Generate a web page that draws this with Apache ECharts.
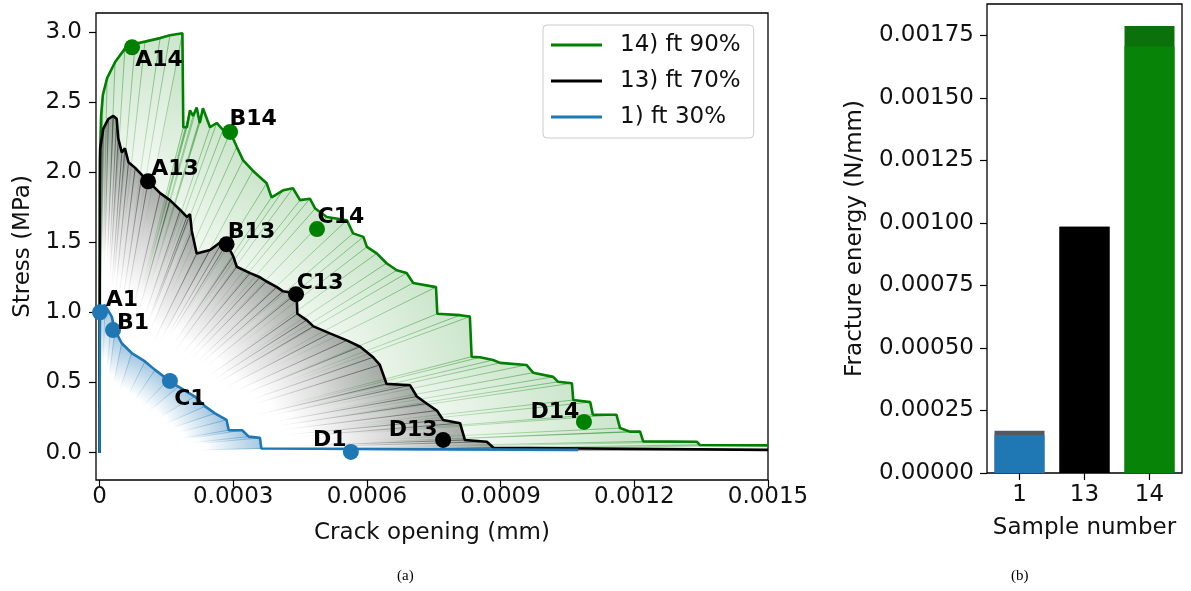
<!DOCTYPE html>
<html><head><meta charset="utf-8">
<script src="https://cdn.jsdelivr.net/npm/echarts@6/dist/echarts.min.js"></script>
<style>html,body{margin:0;padding:0;background:#fff}#c{width:1191px;height:591px}</style>
</head><body><div id="c"></div>
<script>
// ---------------- data ----------------
const crackTicks = [0, 0.0003, 0.0006, 0.0009, 0.0012, 0.0015];
const stressTicks = [0, 0.5, 1.0, 1.5, 2.0, 2.5, 3.0];
const seriesNames = ['14) ft 90%', '13) ft 70%', '1) ft 30%'];

const curve14 = [
  [0, 0], [0.000001, 2.10], [0.0000035, 2.40], [0.0000075, 2.55], [0.000017, 2.67],
  [0.000035, 2.785], [0.000057, 2.88], [0.00008, 2.915], [0.000102, 2.93], [0.000136, 2.955],
  [0.000158, 2.975], [0.000186, 2.99], [0.000188, 2.32], [0.000196, 2.32], [0.000203, 2.44],
  [0.00021, 2.40], [0.000218, 2.46], [0.000225, 2.35], [0.000232, 2.455], [0.000248, 2.32],
  [0.000263, 2.35], [0.000277, 2.30], [0.000293, 2.285], [0.000308, 2.18], [0.000322, 2.085],
  [0.000344, 2.01], [0.000375, 1.92], [0.000386, 1.82], [0.000412, 1.87], [0.000434, 1.885],
  [0.00045, 1.80], [0.000472, 1.81], [0.000484, 1.74], [0.00051, 1.68], [0.000555, 1.657],
  [0.000569, 1.563], [0.000592, 1.538], [0.0006, 1.467], [0.000622, 1.42], [0.000644, 1.35],
  [0.000667, 1.30], [0.000689, 1.28], [0.000704, 1.21], [0.000755, 1.18], [0.000758, 0.99],
  [0.000809, 0.98], [0.000831, 0.97], [0.000835, 0.684], [0.000854, 0.68], [0.000883, 0.66],
  [0.000899, 0.64], [0.000958, 0.625], [0.000973, 0.57], [0.001018, 0.54], [0.001029, 0.505],
  [0.00106, 0.495], [0.001063, 0.375], [0.001101, 0.36], [0.001107, 0.27], [0.00116, 0.27],
  [0.001168, 0.175], [0.00119, 0.15], [0.001213, 0.15], [0.00122, 0.08], [0.00134, 0.078],
  [0.001347, 0.055], [0.0015, 0.052]
];
const curve13 = [
  [0, 0], [0.000001, 1.90], [0.0000015, 2.17], [0.0000085, 2.31], [0.00002, 2.38],
  [0.000031, 2.40], [0.0000385, 2.38], [0.000042, 2.24], [0.00005, 2.14], [0.000057, 2.17],
  [0.000065, 2.07], [0.00008, 2.03], [0.000095, 1.98], [0.000109, 1.935], [0.000136, 1.85],
  [0.000158, 1.80], [0.000181, 1.73], [0.000196, 1.68], [0.000203, 1.70], [0.000207, 1.58],
  [0.000218, 1.42], [0.000248, 1.445], [0.000278, 1.515], [0.000285, 1.49], [0.0003, 1.40],
  [0.000308, 1.325], [0.000338, 1.28], [0.00036, 1.25], [0.000375, 1.22], [0.000398, 1.18],
  [0.000412, 1.15], [0.000442, 1.135], [0.000444, 0.99], [0.000465, 0.945], [0.00048, 0.90],
  [0.000517, 0.85], [0.000555, 0.80], [0.000585, 0.755], [0.000614, 0.68], [0.000629, 0.625],
  [0.000644, 0.49], [0.000697, 0.48], [0.000712, 0.40], [0.000734, 0.35], [0.000757, 0.30],
  [0.000771, 0.233], [0.000809, 0.21], [0.00082, 0.09], [0.000869, 0.078], [0.000884, 0.035],
  [0.0015, 0.02]
];
const curve1 = [
  [0, 0], [0.000001, 1.00], [0.000003, 1.04], [0.0000124, 1.05], [0.0000274, 0.97],
  [0.0000348, 0.874], [0.0000498, 0.78], [0.0000722, 0.71], [0.000102, 0.65], [0.0001245, 0.59],
  [0.000154, 0.52], [0.000177, 0.47], [0.000214, 0.40], [0.000237, 0.33], [0.000259, 0.28],
  [0.000285, 0.233], [0.00029, 0.16], [0.00032, 0.16], [0.000335, 0.114], [0.00036, 0.105],
  [0.000363, 0.03], [0.001074, 0.02]
];

const pointNames14 = ['A14', 'B14', 'C14', 'D14'];
const points14 = [[0.000073, 2.89], [0.000293, 2.286], [0.000488, 1.594], [0.001087, 0.219]];
const pointNames13 = ['A13', 'B13', 'C13', 'D13'];
const points13 = [[0.000109, 1.934], [0.000285, 1.486], [0.000441, 1.13], [0.000771, 0.091]];
const pointNames1 = ['A1', 'B1', 'C1', 'D1'];
const points1 = [[0.000001, 1.00], [0.0000303, 0.874], [0.000158, 0.511], [0.000564, 0.005]];

const samples = ['1', '13', '14'];
const fractureEnergy = [0.000152, 0.000985, 0.001705];
const fractureEnergyTop = [0.000169, 0.000985, 0.001788];
const energyTicks = [0, 0.00025, 0.0005, 0.00075, 0.001, 0.00125, 0.0015, 0.00175];

// ---------------- styles ----------------
const FONT = 'DejaVu Sans';
const TXT = '#111';
const GREEN = '#008000', BLACK = '#000000', BLUE = '#1f77b4';
const labelOffsets = {
  A14: [27, 13], B14: [23, -13], C14: [24, -12], D14: [-29, -10],
  A13: [27, -12], B13: [25, -12], C13: [24, -11], D13: [-30, -10],
  A1: [22, -12], B1: [20, -7], C1: [20, 18], D1: [-21, -12]
};

function fanSeries(curve, rgb, alpha, k, z) {
  const segs = [];
  for (let i = 0; i < curve.length - 1; i++) {
    segs.push([curve[i][0], curve[i][1], curve[i + 1][0], curve[i + 1][1]]);
  }
  return {
    type: 'custom', xAxisIndex: 0, yAxisIndex: 0, silent: true, z: z,
    data: segs, encode: { x: [0, 2], y: [1, 3] },
    renderItem: function (params, api) {
      const x1 = api.value(0), y1 = api.value(1), x2 = api.value(2), y2 = api.value(3);
      const a = api.coord([x1, y1]), b = api.coord([x2, y2]);
      const c = api.coord([x2 * k, y2 * k]), d = api.coord([x1 * k, y1 * k]);
      const m1 = [(a[0] + b[0]) / 2, (a[1] + b[1]) / 2];
      const m2 = [(c[0] + d[0]) / 2, (c[1] + d[1]) / 2];
      return {
        type: 'polygon', shape: { points: [a, b, c, d] },
        style: {
          fill: new echarts.graphic.LinearGradient(m1[0], m1[1], m2[0] + 0.01, m2[1] + 0.01, [
            { offset: 0, color: 'rgba(' + rgb + ',' + alpha + ')' },
            { offset: 1, color: 'rgba(' + rgb + ',0)' }
          ], true)
        }
      };
    }
  };
}
function hatchSeries(curve, rgb, alpha, k, z) {
  return {
    type: 'custom', xAxisIndex: 0, yAxisIndex: 0, silent: true, z: z,
    data: curve.filter(p => p[1] > 0), encode: { x: 0, y: 1 },
    renderItem: function (params, api) {
      const x = api.value(0), y = api.value(1);
      const a = api.coord([x, y]), b = api.coord([x * k, y * k]);
      return {
        type: 'line', shape: { x1: a[0], y1: a[1], x2: b[0], y2: b[1] },
        style: {
          lineWidth: 1,
          stroke: new echarts.graphic.LinearGradient(a[0], a[1], b[0] + 0.01, b[1] + 0.01, [
            { offset: 0, color: 'rgba(' + rgb + ',' + alpha + ')' },
            { offset: 1, color: 'rgba(' + rgb + ',0)' }
          ], true)
        }
      };
    }
  };
}
function curveSeries(name, curve, color, z) {
  return {
    type: 'line', name: name, data: curve, xAxisIndex: 0, yAxisIndex: 0,
    showSymbol: false, symbol: 'none', silent: true, z: z, clip: true,
    lineStyle: { color: color, width: 2.6 }, itemStyle: { color: color }
  };
}
function pointSeries(names, pts, color) {
  return {
    type: 'scatter', xAxisIndex: 0, yAxisIndex: 0, silent: true, z: 10,
    symbolSize: 16, itemStyle: { color: color, opacity: 1 },
    data: pts.map((p, i) => ({ name: names[i], value: p, label: { offset: labelOffsets[names[i]] } })),
    label: {
      show: true, position: 'inside', formatter: '{b}', color: '#000',
      fontFamily: FONT, fontWeight: 'bold', fontSize: 22
    }
  };
}

const axisTxt = { fontFamily: FONT, fontSize: 23, color: TXT };
const tickStyle = { lineStyle: { color: '#000', width: 1.2 } };

const option = {
  animation: false,
  backgroundColor: '#fff',
  textStyle: { fontFamily: FONT },
  grid: [
    { left: 96, top: 13, width: 672, height: 467, show: true, borderColor: '#000', borderWidth: 1.3,
      backgroundColor: 'transparent', containLabel: false, outerBoundsMode: 'none' },
    { left: 987, top: 4, width: 195, height: 469, show: true, borderColor: '#000', borderWidth: 1.3,
      backgroundColor: 'transparent', containLabel: false, outerBoundsMode: 'none' }
  ],
  xAxis: [
    { type: 'value', gridIndex: 0, min: -0.0000079, max: 0.0015,
      axisLine: { show: false, onZero: false }, splitLine: { show: false },
      axisTick: Object.assign({ show: true, length: 7, customValues: crackTicks }, tickStyle),
      axisLabel: Object.assign({ customValues: crackTicks, margin: 6,
        formatter: v => (v === 0 ? '0' : v.toFixed(4)) }, axisTxt),
      name: 'Crack opening (mm)', nameLocation: 'middle', nameGap: 42, nameTextStyle: axisTxt },
    { type: 'category', gridIndex: 1, data: samples,
      axisLine: { show: false, onZero: false }, splitLine: { show: false },
      axisTick: Object.assign({ show: true, length: 7, alignWithLabel: true }, tickStyle),
      axisLabel: Object.assign({ margin: 11 }, axisTxt),
      name: 'Sample number', nameLocation: 'middle', nameGap: 44, nameTextStyle: axisTxt }
  ],
  yAxis: [
    { type: 'value', gridIndex: 0, min: -0.195, max: 3.134,
      axisLine: { show: false, onZero: false }, splitLine: { show: false },
      axisTick: Object.assign({ show: true, length: 7, customValues: stressTicks }, tickStyle),
      axisLabel: Object.assign({ customValues: stressTicks, margin: 14,
        formatter: v => v.toFixed(1) }, axisTxt),
      name: 'Stress (MPa)', nameLocation: 'middle', nameGap: 55, nameTextStyle: axisTxt },
    { type: 'value', gridIndex: 1, min: 0, max: 0.001876,
      axisLine: { show: false, onZero: false }, splitLine: { show: false },
      axisTick: Object.assign({ show: true, length: 7, customValues: energyTicks }, tickStyle),
      axisLabel: Object.assign({ customValues: energyTicks, margin: 13,
        formatter: v => v.toFixed(5) }, axisTxt),
      name: 'Fracture energy (N/mm)', nameLocation: 'middle', nameGap: 120, nameTextStyle: axisTxt }
  ],
  legend: {
    data: seriesNames, orient: 'vertical', left: 543, top: 25,
    icon: 'rect', itemWidth: 51, itemHeight: 3, itemGap: 10,
    padding: [7, 13, 8, 8], selectedMode: false,
    backgroundColor: 'rgba(255,255,255,0.85)', borderColor: '#cccccc', borderWidth: 1, borderRadius: 4,
    textStyle: { fontFamily: FONT, fontSize: 23, color: TXT, lineHeight: 26, padding: [0, 0, 0, 13] }
  },
  series: [
    fanSeries(curve14, '0,128,0', 0.2, 0.57, 1),
    hatchSeries(curve14, '0,128,0', 0.45, 0.5, 1),
    curveSeries(seriesNames[0], curve14, GREEN, 2),
    fanSeries(curve13, '0,0,0', 0.3, 0.6, 3),
    hatchSeries(curve13, '0,0,0', 0.5, 0.55, 3),
    curveSeries(seriesNames[1], curve13, BLACK, 4),
    fanSeries(curve1, '31,119,180', 0.4, 0.66, 5),
    hatchSeries(curve1, '31,119,180', 0.5, 0.62, 5),
    curveSeries(seriesNames[2], curve1, BLUE, 6),
    pointSeries(pointNames14, points14, GREEN),
    pointSeries(pointNames13, points13, BLACK),
    pointSeries(pointNames1, points1, BLUE),
    { type: 'bar', xAxisIndex: 1, yAxisIndex: 1, silent: true, barWidth: 50, z: 2,
      data: fractureEnergyTop.map((v, i) => ({ value: v, itemStyle: { color: ['#4f5a63', '#000000', '#0b720b'][i] } })) },
    { type: 'bar', xAxisIndex: 1, yAxisIndex: 1, silent: true, barWidth: 50, barGap: '-100%', z: 3,
      data: fractureEnergy.map((v, i) => ({ value: v, itemStyle: { color: [BLUE, BLACK, '#078307'][i] } })) }
  ],
  graphic: [
    { type: 'text', left: 397, top: 569, style: { text: '(a)', fontSize: 15, fontFamily: 'Liberation Serif', fill: '#000' } },
    { type: 'text', left: 1011, top: 569, style: { text: '(b)', fontSize: 15, fontFamily: 'Liberation Serif', fill: '#000' } }
  ]
};

const chart = echarts.init(document.getElementById('c'), null, { renderer: 'canvas' });
chart.setOption(option);
</script>
</body></html>
